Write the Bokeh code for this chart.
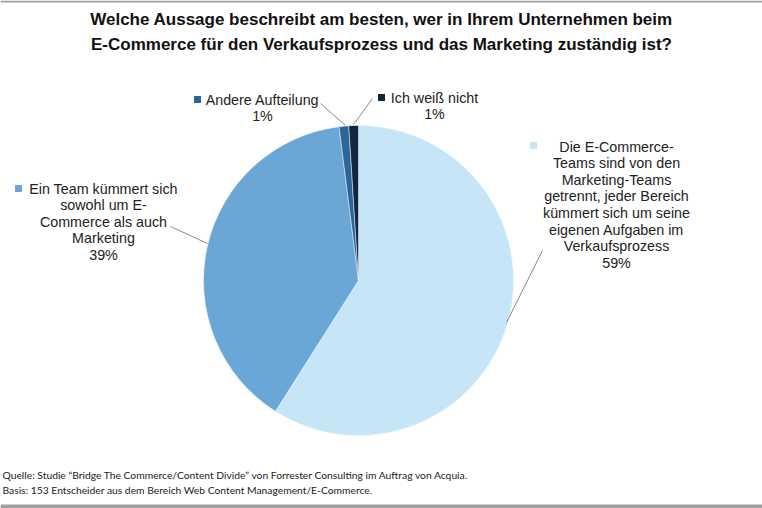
import numpy as np
from bokeh.plotting import figure
from bokeh.models import Range1d, ColumnDataSource
from bokeh.core.properties import value
from bokeh.embed import file_html
from bokeh.resources import INLINE

# ---------------- data ----------------
categories = [
    "Die E-Commerce-Teams sind von den Marketing-Teams getrennt, jeder Bereich kümmert sich um seine eigenen Aufgaben im Verkaufsprozess",
    "Ein Team kümmert sich sowohl um E-Commerce als auch Marketing",
    "Andere Aufteilung",
    "Ich weiß nicht",
]
shares = [59, 39, 1, 1]
colors = ["#c6e6f7", "#6aa7d7", "#2c6699", "#10253f"]
label_lines = [
    ["Die E-Commerce-", "Teams sind von den", "Marketing-Teams", "getrennt, jeder Bereich",
     "kümmert sich um seine", "eigenen Aufgaben im", "Verkaufsprozess"],
    ["Ein Team kümmert sich", "sowohl um E-", "Commerce als auch", "Marketing"],
    ["Andere Aufteilung"],
    ["Ich weiß nicht"],
]
title_lines = [
    "Welche Aussage beschreibt am besten, wer in Ihrem Unternehmen beim",
    "E-Commerce für den Verkaufsprozess und das Marketing zuständig ist?",
]
footer_lines = [
    "Quelle: Studie  \u201cBridge The Commerce/Content Divide\u201d von Forrester Consulting im Auftrag von Acquia.",
    "Basis: 153 Entscheider aus dem Bereich Web Content Management/E-Commerce.",
]

W, H = 762, 508
def Y(py):
    return H - py

p = figure(width=W, height=H, output_backend="svg", toolbar_location=None,
           x_range=Range1d(0, W), y_range=Range1d(0, H), min_border=0)
p.axis.visible = False
p.grid.visible = False
p.outline_line_color = None
p.background_fill_color = "white"
p.border_fill_color = "white"

# gray frame strips (top / bottom)
p.quad(left=[0, 0], right=[W, W], top=[Y(0), Y(504)], bottom=[Y(2), Y(508)],
       fill_color="#a0a0a0", line_color=None)

# ---------------- pie ----------------
cx, cy, r = 358, Y(280), 155
fr = np.array(shares, dtype=float) / sum(shares)
cum = np.concatenate([[0], np.cumsum(fr)])
start = np.pi / 2 - cum[1:] * 2 * np.pi
end = np.pi / 2 - cum[:-1] * 2 * np.pi
src = ColumnDataSource(dict(start=start, end=end, color=colors))
p.wedge(x=cx, y=cy, radius=r, start_angle="start", end_angle="end",
        fill_color="color", line_color="#eef6fb", line_width=0.5, source=src)

# ---------------- leader lines ----------------
p.segment(x0=[170, 542, 320, 372], y0=[Y(226), Y(250), Y(103), Y(98)],
          x1=[207, 506, 345, 353], y1=[Y(243), Y(322), Y(125), Y(124)],
          line_color="#8a8a8a", line_width=1)

lab_font = value("Liberation Sans")
fs = "14.3px"
lh = 16.6

def block(lines, pct, xc, y0):
    allv = lines + [f"{pct}%"]
    ys = [Y(y0 + i * lh) for i in range(len(allv))]
    p.text(x=[xc] * len(allv), y=ys, text=allv, text_font=lab_font,
           text_font_size=fs, text_color="#222222", text_align="center",
           text_baseline="middle")

# right label (59%)
block(label_lines[0], shares[0], 616, 146)
# left label (39%)
block(label_lines[1], shares[1], 103, 188)
# Andere
block(label_lines[2], shares[2], 262, 99)
# Ich weiß nicht
block(label_lines[3], shares[3], 434, 97)

# legend keys
p.scatter(x=[533, 18, 197, 381], y=[Y(145), Y(188), Y(99), Y(97)], marker="square",
          size=7, fill_color=colors, line_color=None)

# ---------------- title ----------------
p.text(x=[381, 381], y=[Y(19), Y(44)], text=title_lines,
       text_font=value("Liberation Sans"), text_font_style="bold",
       text_font_size="17px", text_color="#111111", text_align="center",
       text_baseline="middle")

# ---------------- footer ----------------
p.text(x=[2, 2], y=[Y(474), Y(489)], text=footer_lines,
       text_font=value("Lato"), text_font_size="10.3px", text_color="#222222",
       text_align="left", text_baseline="middle")

open("out.html", "w").write(file_html(p, INLINE))
